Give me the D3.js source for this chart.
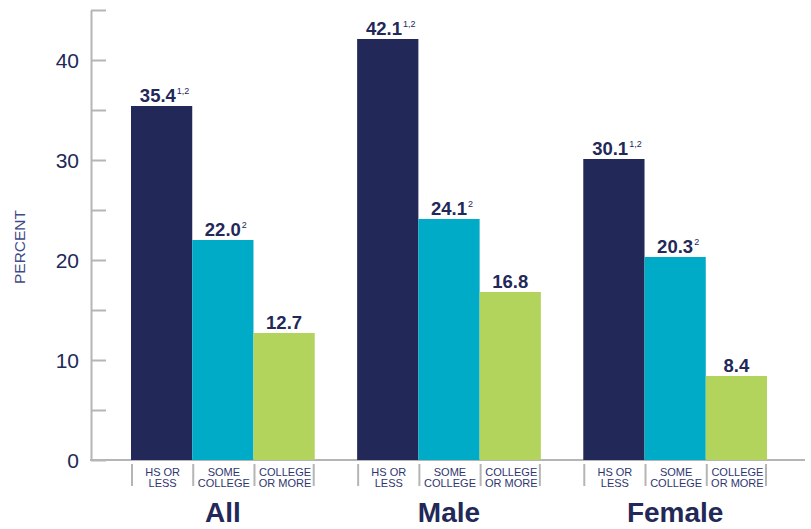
<!DOCTYPE html>
<html>
<head>
<meta charset="utf-8">
<script src="https://cdn.jsdelivr.net/npm/d3@7"></script>
<style>
  html, body { margin: 0; padding: 0; background: #fff; }
  svg { display: block; font-family: "Liberation Sans", Arial, Helvetica, sans-serif; }
</style>
</head>
<body>
<svg id="chart" width="811" height="529"></svg>
<script>
// Groups along the x axis and education levels within each group
const groups = ["All", "Male", "Female"];
const levels = ["HS OR LESS", "SOME COLLEGE", "COLLEGE OR MORE"];
const levelLines = [["HS OR", "LESS"], ["SOME", "COLLEGE"], ["COLLEGE", "OR MORE"]];

// Percent values per group, in level order
const hsOrLess = [35.4, 42.1, 30.1];
const someCollege = [22.0, 24.1, 20.3];
const collegeOrMore = [12.7, 16.8, 8.4];

// Footnote markers shown after each value
const notesHs = ["1,2", "1,2", "1,2"];
const notesSome = ["2", "2", "2"];
const notesCollege = ["", "", ""];

const yTicks = [0, 5, 10, 15, 20, 25, 30, 35, 40, 45];

const colors = ["#222858", "#00abc8", "#b2d35c"];
const navy = "#222858";

const seriesValues = [hsOrLess, someCollege, collegeOrMore];
const seriesNotes = [notesHs, notesSome, notesCollege];

const rows = [];
groups.forEach((g, gi) => {
  levels.forEach((l, li) => {
    rows.push({ group: g, level: l, li, value: seriesValues[li][gi], note: seriesNotes[li][gi] });
  });
});

const svg = d3.select("#chart");

const axisX = 91, baseY = 460;

const y = d3.scaleLinear().domain([0, 45]).range([baseY, 10]);

const x0 = d3.scaleBand().domain(groups).range([131, 767]).paddingInner(0.1876).paddingOuter(0);
const x1 = d3.scaleBand().domain(levels).range([0, x0.bandwidth()]).padding(0);

// Y axis with inward ticks every 5, labels every 10
const yAxis = d3.axisLeft(y)
  .tickValues(yTicks)
  .tickSizeInner(-15)
  .tickSizeOuter(0)
  .tickPadding(12)
  .tickFormat(d => (d % 10 === 0 && d <= 40) ? d : "");

const gy = svg.append("g").attr("transform", `translate(${axisX},0)`).call(yAxis);
gy.select(".domain").attr("stroke", "#b5b5b5").attr("stroke-width", 2);
gy.selectAll(".tick line").attr("stroke", "#b5b5b5").attr("stroke-width", 2);
gy.selectAll(".tick text")
  .attr("fill", navy)
  .attr("font-size", 21)
  .attr("font-family", "'Liberation Sans', Arial, sans-serif")
  .attr("dy", "0.36em");

// Baseline
svg.append("line")
  .attr("x1", axisX - 1).attr("x2", 805)
  .attr("y1", baseY).attr("y2", baseY)
  .attr("stroke", "#b5b5b5").attr("stroke-width", 2);

// Y axis title
svg.append("text")
  .attr("transform", `translate(25,${247}) rotate(-90)`)
  .attr("text-anchor", "middle")
  .attr("fill", "#3f4a86")
  .attr("font-size", 15.5)
  .text("PERCENT");

// Bars
const gGroups = svg.selectAll("g.grp")
  .data(groups)
  .join("g")
  .attr("class", "grp")
  .attr("transform", d => `translate(${x0(d)},0)`);

gGroups.selectAll("rect")
  .data(g => rows.filter(r => r.group === g))
  .join("rect")
  .attr("x", d => x1(d.level))
  .attr("width", x1.bandwidth())
  .attr("y", d => y(d.value))
  .attr("height", d => y(0) - y(d.value))
  .attr("fill", d => colors[d.li]);

// Value labels with footnote superscripts
const vl = gGroups.selectAll("text.val")
  .data(g => rows.filter(r => r.group === g))
  .join("text")
  .attr("class", "val")
  .attr("x", d => x1(d.level) + x1.bandwidth() / 2 + (d.note ? 3 : 0))
  .attr("y", d => y(d.value) - 4)
  .attr("text-anchor", "middle")
  .attr("fill", navy);
vl.append("tspan")
  .attr("font-size", 18.5)
  .attr("font-weight", "bold")
  .text(d => d.value.toFixed(1));
vl.filter(d => d.note).append("tspan")
  .attr("font-size", 9)
  .attr("dy", -8)
  .attr("dx", 1)
  .text(d => d.note);

// Separator ticks under the baseline
gGroups.selectAll("line.sep")
  .data([0, 1, 2, 3])
  .join("line")
  .attr("class", "sep")
  .attr("x1", i => i < 3 ? x1(levels[i]) + 1 : x0.bandwidth() - 1)
  .attr("x2", i => i < 3 ? x1(levels[i]) + 1 : x0.bandwidth() - 1)
  .attr("y1", 464).attr("y2", 486)
  .attr("stroke", "#b5b5b5").attr("stroke-width", 2);

// Level labels
const ll = gGroups.selectAll("text.lvl")
  .data(levels)
  .join("text")
  .attr("class", "lvl")
  .attr("x", d => x1(d) + x1.bandwidth() / 2 + 1)
  .attr("y", 476)
  .attr("text-anchor", "middle")
  .attr("fill", "#2e3670")
  .attr("font-size", 11);
ll.selectAll("tspan")
  .data(d => levelLines[levels.indexOf(d)])
  .join("tspan")
  .attr("x", function() { return this.parentNode.getAttribute("x"); })
  .attr("dy", (d, i) => i === 0 ? 0 : 11)
  .text(d => d);

// Group labels
gGroups.append("text")
  .attr("x", x0.bandwidth() / 2)
  .attr("y", 522)
  .attr("text-anchor", "middle")
  .attr("fill", navy)
  .attr("font-size", 28)
  .attr("font-weight", "bold")
  .text(d => d);
</script>
</body>
</html>
